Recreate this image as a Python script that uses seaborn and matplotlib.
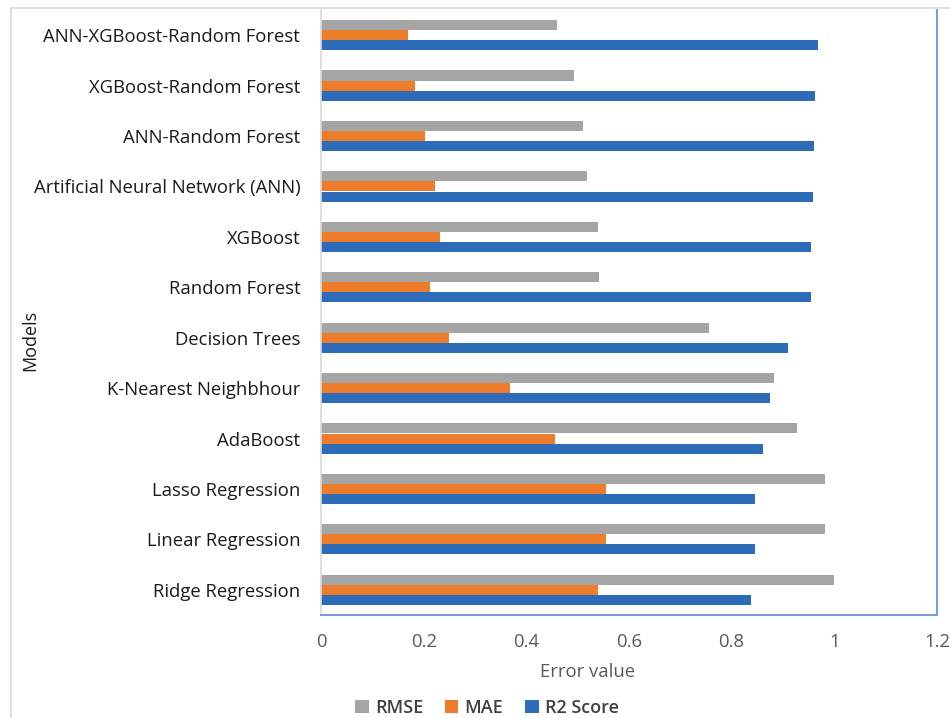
import matplotlib
matplotlib.use("Agg")
import matplotlib.pyplot as plt
import seaborn as sns
import pandas as pd
from matplotlib.lines import Line2D
from matplotlib.patches import Patch

# Model names, top to bottom
models = [
    "ANN-XGBoost-Random Forest",
    "XGBoost-Random Forest",
    "ANN-Random Forest",
    "Artificial Neural Network (ANN)",
    "XGBoost",
    "Random Forest",
    "Decision Trees",
    "K-Nearest Neighbhour",
    "AdaBoost",
    "Lasso Regression",
    "Linear Regression",
    "Ridge Regression",
]
rmse = [0.459, 0.493, 0.510, 0.519, 0.540, 0.542, 0.755, 0.883, 0.928, 0.981, 0.981, 1.000]
mae = [0.169, 0.183, 0.202, 0.223, 0.231, 0.212, 0.249, 0.369, 0.455, 0.555, 0.555, 0.539]
r2 = [0.968, 0.963, 0.960, 0.959, 0.955, 0.954, 0.910, 0.874, 0.861, 0.845, 0.845, 0.838]

metrics = ["RMSE", "MAE", "R2 Score"]
colors = ["#A5A5A5", "#EE7D2B", "#2C6CB8"]
x_ticks = [0, 0.2, 0.4, 0.6, 0.8, 1.0, 1.2]
x_tick_labels = ["0", "0.2", "0.4", "0.6", "0.8", "1", "1.2"]

df = pd.DataFrame({
    "Model": models * 3,
    "Metric": sum([[m] * len(models) for m in metrics], []),
    "Value": rmse + mae + r2,
})

sns.set_theme(style="white")
plt.rcParams["font.family"] = ["Open Sans", "DejaVu Sans"]

W, H = 950, 718
fig = plt.figure(figsize=(W / 100, H / 100), dpi=100)
ax = fig.add_axes([321 / W, 1 - 615 / H, 616 / W, 605 / H])

sns.barplot(
    data=df, y="Model", x="Value", hue="Metric",
    order=models, hue_order=metrics, palette=colors,
    orient="h", width=0.6, saturation=1, ax=ax, legend=False,
    linewidth=0, edgecolor="none",
)

ax.set_xlim(0, 1.2)
ax.set_xticks(x_ticks)
ax.set_xticklabels(x_tick_labels, color="#595959", fontsize=13.3)
ax.tick_params(axis="x", length=0, pad=13)
ax.tick_params(axis="y", length=0, pad=15, labelsize=13.3, labelcolor="#1A1A1A")
ax.set_ylabel("")
ax.set_xlabel("")

ax.spines["top"].set_visible(False)
ax.spines["left"].set_color("#D9D9D9")
ax.spines["left"].set_linewidth(1.2)
ax.spines["right"].set_color("#7F9BD6")
ax.spines["right"].set_linewidth(1.5)
ax.spines["bottom"].set_color("#7F9BD6")
ax.spines["bottom"].set_linewidth(1.5)

# Axis titles
fig.text(588 / W, 1 - 672 / H, "Error value", ha="center", va="center",
         fontsize=13.3, color="#595959")
fig.text(30 / W, 1 - 340 / H, "Models", ha="center", va="center",
         rotation=90, fontsize=13, color="#1A1A1A")

# Outer chart border (top and left)
fig.add_artist(Line2D([11 / W, 1], [1 - 8 / H, 1 - 8 / H], color="#D9D9D9", lw=1.2))
fig.add_artist(Line2D([11 / W, 11 / W], [0, 1 - 8 / H], color="#D9D9D9", lw=1.2))

# Legend
handles = [Patch(facecolor=c, edgecolor="none") for c in colors]
fig.legend(handles, metrics, loc="center", bbox_to_anchor=(487 / W, 1 - 708 / H),
           ncol=3, frameon=False, handlelength=0.75, handleheight=0.75,
           handletextpad=0.35, columnspacing=1.2,
           prop={"size": 13, "weight": "semibold"}, labelcolor="#404040")

fig.savefig("out.png", dpi=100)
